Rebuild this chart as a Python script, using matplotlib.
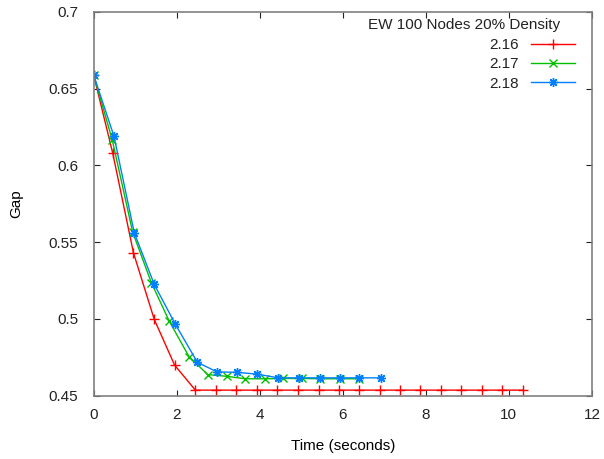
import matplotlib
matplotlib.use("Agg")
import matplotlib.pyplot as plt

# series 2.16
t_216 = [0, 0.46, 0.96, 1.46, 1.95, 2.45, 2.94, 3.44, 3.93, 4.42, 4.92, 5.42, 5.90,
         6.40, 6.90, 7.39, 7.87, 8.37, 8.85, 9.35, 9.83, 10.33]
gap_216 = [0.659, 0.608, 0.543, 0.4997, 0.4699] + [0.4536] * 17

# series 2.17
t_217 = [0, 0.45, 0.94, 1.39, 1.82, 2.30, 2.75, 3.21, 3.65, 4.12, 4.56, 5.02, 5.46, 5.94, 6.40]
gap_217 = [0.659, 0.6165, 0.5566, 0.5236, 0.4986, 0.4753, 0.4637, 0.4626, 0.4610, 0.4610,
           0.4612, 0.4612, 0.4610, 0.4610, 0.4610]

# series 2.18
t_218 = [0, 0.49, 0.98, 1.46, 1.97, 2.50, 2.97, 3.46, 3.94, 4.45, 4.94, 5.44, 5.94, 6.40, 6.91]
gap_218 = [0.659, 0.619, 0.556, 0.5225, 0.4964, 0.4717, 0.4655, 0.4652, 0.4640, 0.4616,
           0.4616, 0.4616, 0.4616, 0.4616, 0.4616]

plt.rcParams['font.family'] = ['Liberation Sans', 'DejaVu Sans']
plt.rcParams['font.size'] = 11

fig = plt.figure(figsize=(6.04, 4.59), dpi=100)
ax = fig.add_axes([0.155, 0.138, 0.825, 0.836])

ax.plot(t_216, gap_216, color='#ff0000', lw=1, marker='+', ms=7, mew=1, label='2.16')
ax.plot(t_217, gap_217, color='#00c000', lw=1, marker='x', ms=5.5, mew=1, label='2.17')
ax.plot(t_218, gap_218, color='#0080ff', lw=1, marker=(8, 2, 0), ms=6.5, mew=1, label='2.18')

ax.set_xlim(0, 12)
ax.set_ylim(0.45, 0.7)
ax.set_xticks(range(0, 13, 2))
ax.set_yticks([0.45, 0.5, 0.55, 0.6, 0.65, 0.7])
ax.set_yticklabels(['0.45', '0.5', '0.55', '0.6', '0.65', '0.7'])
ax.tick_params(direction='in', top=True, right=True, length=4, colors='#222222')
ax.tick_params(axis='x', pad=9)
ax.tick_params(axis='y', pad=11)
for s in ax.spines.values():
    s.set_color('#808080')
    s.set_linewidth(1.2)

ax.set_xlabel('Time (seconds)', labelpad=12)
ax.set_ylabel('Gap', labelpad=18)

# key title sits a bit left of the entries, like gnuplot
fig.text(464.5 / 604, 1 - 24.5 / 459, 'EW 100 Nodes 20% Density', ha='center', va='center',
         color='#222222')
leg = ax.legend(loc='upper right', frameon=False,
                markerfirst=False, handlelength=2.9, borderaxespad=0, borderpad=0,
                bbox_to_anchor=(575 / 604, 1 - 38 / 459), bbox_transform=fig.transFigure,
                labelspacing=0.35, fontsize=11)
for txt in leg.get_texts():
    txt.set_ha('right')
    txt.set_color('#222222')

fig.savefig('out.png', dpi=100)
